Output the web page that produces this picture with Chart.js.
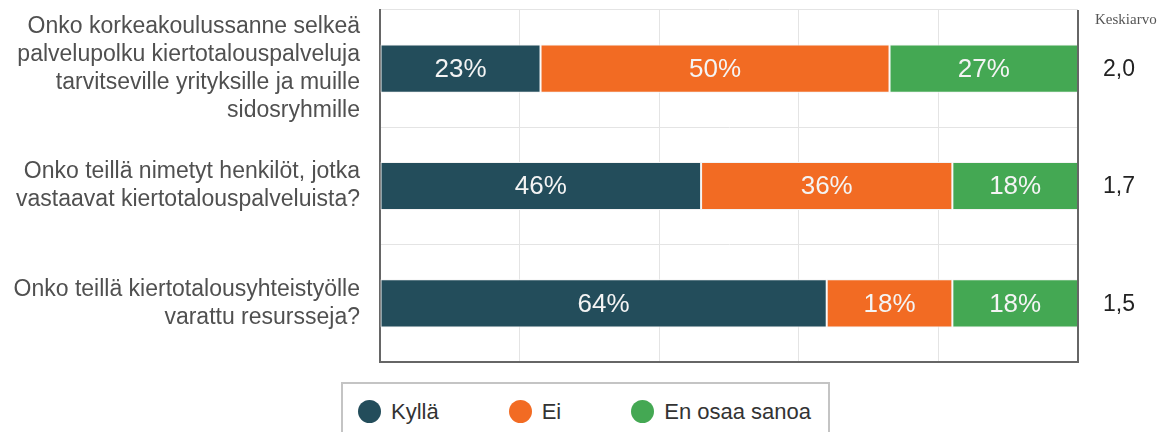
<!DOCTYPE html>
<html>
<head>
<meta charset="utf-8">
<script src="https://cdn.jsdelivr.net/npm/chart.js@4"></script>
<style>
  body { margin: 0; background: #fff; font-family: "Liberation Sans", Arial, sans-serif; }
  #wrap { position: relative; width: 1165px; height: 432px; overflow: hidden; }
  #chartBox { position: absolute; left: 0; top: 0; width: 1165px; height: 372px; }
  #legend { position: absolute; left: 341px; top: 382px; width: 489px; height: 70px;
            border: 2px solid #c4c4c4; box-sizing: border-box; padding: 16px 0 0 15px; white-space: nowrap; }
  .item { display: inline-block; margin-right: 70px; font-size: 22px; color: #333; line-height: 24px; vertical-align: top; }
  .dot { display: inline-block; width: 23px; height: 23px; border-radius: 50%; margin-right: 10px; vertical-align: -4px; }
</style>
</head>
<body>
<div id="wrap">
  <div id="chartBox"><canvas id="surveyChart"></canvas></div>
  <div id="legend"></div>
</div>
<script>
// questions (y categories), one array of lines each
const questions = [
  ['Onko korkeakoulussanne selkeä', 'palvelupolku kiertotalouspalveluja', 'tarvitseville yrityksille ja muille', 'sidosryhmille'],
  ['Onko teillä nimetyt henkilöt, jotka', 'vastaavat kiertotalouspalveluista?'],
  ['Onko teillä kiertotalousyhteistyölle', 'varattu resursseja?']
];
const answerNames = ['Kyllä', 'Ei', 'En osaa sanoa'];
const kylla = [23, 46, 64];
const ei = [50, 36, 18];
const enOsaa = [27, 18, 18];
const averages = [2.0, 1.7, 1.5];
const averageTitle = 'Keskiarvo';
const colors = ['#234d5b', '#f26b23', '#44a853'];

const seriesValues = [kylla, ei, enOsaa];

// percentage labels inside the bars
const barLabels = {
  id: 'barLabels',
  afterDatasetsDraw(chart) {
    const ctx = chart.ctx;
    ctx.save();
    ctx.font = '26px "Liberation Sans", Arial, sans-serif';
    ctx.fillStyle = '#f4f4f4';
    ctx.textAlign = 'center';
    ctx.textBaseline = 'middle';
    chart.data.datasets.forEach((ds, i) => {
      chart.getDatasetMeta(i).data.forEach((bar, j) => {
        ctx.fillText(ds.data[j] + '%', (bar.x + bar.base) / 2, bar.y + 1);
      });
    });
    ctx.restore();
  }
};

// right frame line and the average column
const sideInfo = {
  id: 'sideInfo',
  afterDraw(chart) {
    const ctx = chart.ctx;
    const area = chart.chartArea;
    const yScale = chart.scales.y;
    ctx.save();
    ctx.strokeStyle = '#666';
    ctx.lineWidth = 2;
    ctx.beginPath();
    ctx.moveTo(area.right, area.top);
    ctx.lineTo(area.right, area.bottom + 1);
    ctx.stroke();

    ctx.fillStyle = '#555';
    ctx.font = '15px "Liberation Serif", "Times New Roman", serif';
    ctx.textAlign = 'left';
    ctx.textBaseline = 'middle';
    ctx.fillText(averageTitle, area.right + 17, 20);

    ctx.fillStyle = '#222';
    ctx.font = '23px "Liberation Sans", Arial, sans-serif';
    averages.forEach((v, i) => {
      ctx.fillText(v.toFixed(1).replace('.', ','), area.right + 25, yScale.getPixelForValue(i) + 1);
    });
    ctx.restore();
  }
};

const ctx = document.getElementById('surveyChart');
new Chart(ctx, {
  type: 'bar',
  data: {
    labels: questions,
    datasets: answerNames.map((name, i) => ({
      label: name,
      data: seriesValues[i],
      backgroundColor: colors[i],
      borderColor: '#f4f4f4',
      borderWidth: 1,
      borderSkipped: false,
      barPercentage: 0.41,
      categoryPercentage: 1
    }))
  },
  options: {
    indexAxis: 'y',
    responsive: true,
    maintainAspectRatio: false,
    animation: false,
    layout: { padding: { top: 10, bottom: 10, right: 87, left: 0 } },
    plugins: {
      legend: { display: false },
      tooltip: { enabled: false }
    },
    scales: {
      x: {
        stacked: true,
        min: 0,
        max: 100,
        ticks: { display: false, stepSize: 20 },
        grid: { color: '#e4e4e4', drawTicks: false, lineWidth: 1 },
        border: { color: '#666', width: 2 },
        afterFit(scale) {
          scale.height = 0;
          scale.paddingLeft = 0;
          scale.paddingRight = 0;
        }
      },
      y: {
        stacked: true,
        ticks: {
          color: '#505050',
          padding: 20,
          font: { family: '"Liberation Sans", Arial, sans-serif', size: 23, lineHeight: 1.22 }
        },
        grid: { color: '#e4e4e4', offset: true, drawTicks: false },
        border: { color: '#666', width: 2 },
        afterFit(scale) {
          scale.width = 380;
          scale.paddingTop = 0;
          scale.paddingBottom = 0;
        }
      }
    }
  },
  plugins: [barLabels, sideInfo]
});

// legend below the plot
const legend = document.getElementById('legend');
answerNames.forEach((name, i) => {
  const item = document.createElement('span');
  item.className = 'item';
  item.innerHTML = '<span class="dot" style="background:' + colors[i] + '"></span>' + name;
  legend.appendChild(item);
});
</script>
</body>
</html>
